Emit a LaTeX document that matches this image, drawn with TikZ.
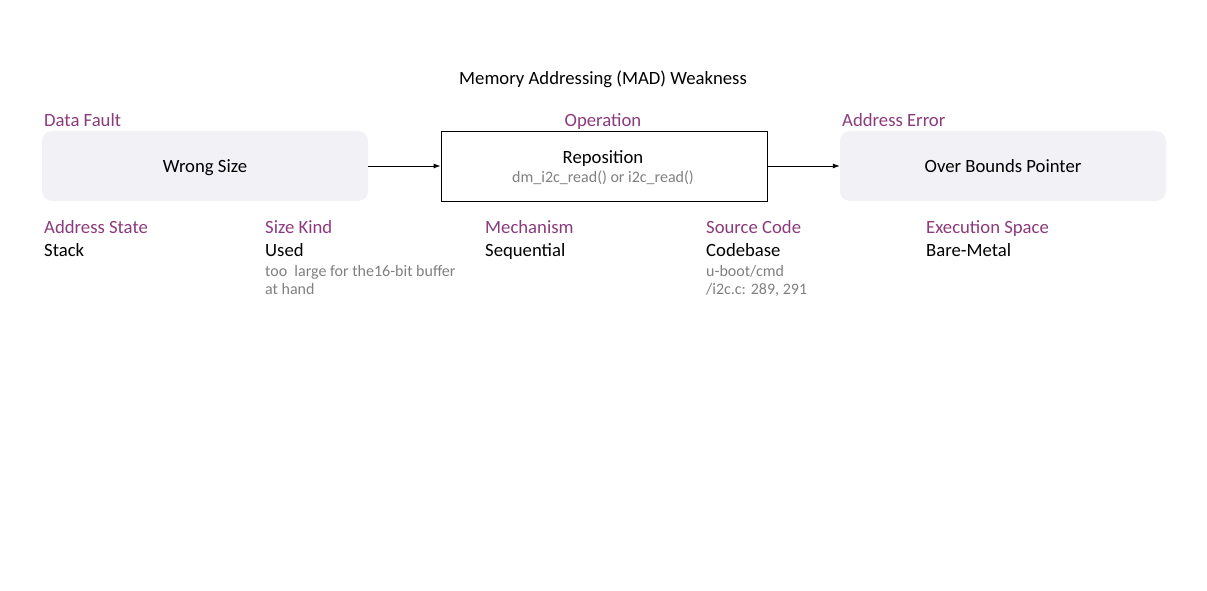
\documentclass[tikz,border=0pt]{standalone}
\usepackage{fontspec}
\setmainfont{Carlito}
\usetikzlibrary{arrows.meta}
\definecolor{cat}{HTML}{8B3A7C}
\definecolor{note}{HTML}{808080}
\definecolor{soft}{HTML}{F2F1F6}
\tikzset{
  cat/.style={text=cat, font=\fontsize{18.7}{22}\selectfont, inner sep=0pt, anchor=base west},
  val/.style={text=black, font=\fontsize{18.7}{22}\selectfont, inner sep=0pt, anchor=base west},
  notes/.style={text=note, font=\fontsize{16}{18.3}\selectfont, inner sep=0pt, anchor=base west, align=left},
  softbox/.style={fill=soft, draw=none, rounded corners=10pt, minimum width=326pt, minimum height=70pt, font=\fontsize{18.7}{22}\selectfont, inner sep=0pt, text height=13.4pt, text depth=0pt},
  opbox/.style={fill=white, draw=black, line width=0.9pt, minimum width=326pt, minimum height=70pt, inner sep=0pt},
  conn/.style={-{Latex[length=7pt,width=5pt]}, line width=0.9pt}
}
\begin{document}
\begin{tikzpicture}[x=1pt,y=-1pt]
\useasboundingbox (0,0) rectangle (1207,591);
\node[font=\fontsize{18.7}{22}\selectfont, inner sep=0pt, anchor=base] (title) at (603,84.5) {Memory Addressing (MAD) Weakness};

\node[softbox] (fault) at (205,166) {Wrong Size};
\node[opbox] (op) at (604,166) {};
\node[font=\fontsize{18.7}{22}\selectfont, inner sep=0pt, anchor=base] (opname) at (603,163) {Reposition};
\node[font=\fontsize{16}{19}\selectfont, text=note, inner sep=0pt, anchor=base] (opnote) at (603,182) {dm\_i2c\_read() or i2c\_read()};
\node[softbox] (err) at (1003,166) {Over Bounds Pointer};

\draw[conn] (fault) -- (op);
\draw[conn] (op) -- (err);

\node[cat] (l1) at (44,126.5) {Data Fault};
\node[cat, anchor=base] (l2) at (603,126.5) {Operation};
\node[cat] (l3) at (842,126.5) {Address Error};

\node[cat] (a1) at (44,233.2) {Address State};
\node[val] (v1) at (44,256.5) {Stack};

\node[cat] (a2) at (265,233.2) {Size Kind};
\node[val] (v2) at (265,256.5) {Used};
\node[notes] (n2) at (265,294.8) {too\ \ large for the16-bit buffer\\at hand};

\node[cat] (a3) at (485,233.2) {Mechanism};
\node[val] (v3) at (485,256.5) {Sequential};

\node[cat] (a4) at (706,233.2) {Source Code};
\node[val] (v4) at (706,256.5) {Codebase};
\node[notes] (n4) at (706,294.8) {u-boot/cmd\\/i2c.c: 289, 291};

\node[cat] (a5) at (926,233.2) {Execution Space};
\node[val] (v5) at (926,256.5) {Bare-Metal};
\end{tikzpicture}
\end{document}
